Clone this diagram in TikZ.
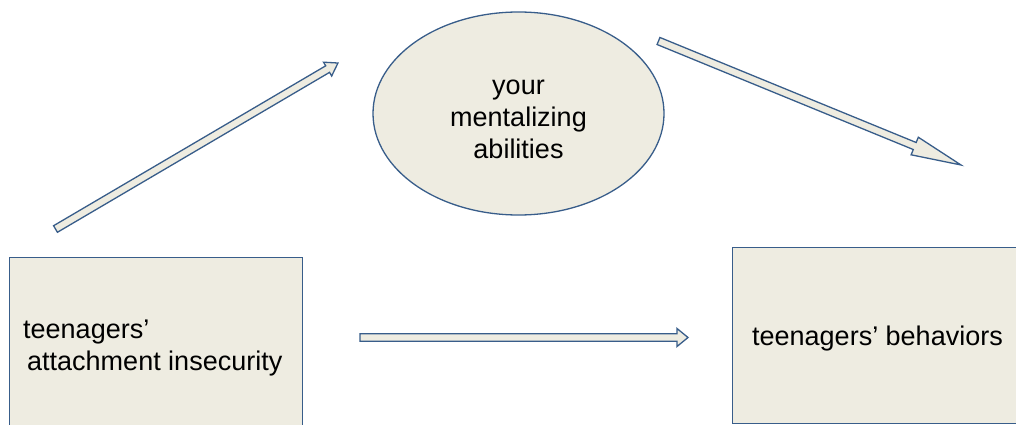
\documentclass[tikz,border=0pt]{standalone}
\usepackage{fontspec}
\setmainfont{Liberation Sans}
\usetikzlibrary{calc,shapes.geometric}
\definecolor{edgeblue}{HTML}{385D8A}
\definecolor{paper}{HTML}{EEECE1}
\tikzset{
  panel/.style={draw=edgeblue, fill=paper, line width=1.3pt, inner sep=0pt},
  txt/.style={font=\fontsize{27pt}{32pt}\selectfont, inner sep=0pt, text=black},
  blockarr/.style={draw=edgeblue, fill=paper, line width=1.3pt, line join=miter},
}
% block arrow: #1 tail, #2 tip, #3 shaft half-width, #4 head half-width, #5 head length
\newcommand{\blockarrow}[5]{%
  \draw[blockarr] let \p1=($(#2)-(#1)$), \n1={atan2(\y1,\x1)}, \n2={veclen(\x1,\y1)} in
    [shift={(#1)}, rotate=\n1]
    (0pt,-#3pt) -- (\n2-#5pt,-#3pt) -- (\n2-#5pt,-#4pt) -- (\n2,0pt)
    -- (\n2-#5pt,#4pt) -- (\n2-#5pt,#3pt) -- (0pt,#3pt) -- cycle;
}
\begin{document}
\begin{tikzpicture}[x=1pt,y=-1pt]
  \useasboundingbox (0,0) rectangle (1016,425);
  \clip (0,0) rectangle (1016,425);

  % boxes and the mediator ellipse
  \node[panel, rectangle, anchor=north west, minimum width=292.5pt, minimum height=220pt]
    (insecurity) at (9,257) {};
  \node[panel, rectangle, anchor=north west, minimum width=320pt, minimum height=175.5pt]
    (behaviors) at (732,247) {};
  \node[panel, ellipse, minimum width=291pt, minimum height=203pt]
    (mentalizing) at (518.5,113.5) {};

  % texts
  \node[txt, anchor=base west, align=left] (insecuritytext) at (23,370)
    {teenagers’\\\hspace*{4pt}attachment insecurity};
  \node[txt, anchor=base] (behaviorstext) at (877.5,345) {teenagers’ behaviors};
  \node[txt, align=center] (mentalizingtext) at (518.5,119.5)
    {your\\mentalizing\\abilities};

  % arrows
  \coordinate (a1s) at (55.5,229);
  \coordinate (a1e) at (338,63);
  \coordinate (a2s) at (658.5,41);
  \coordinate (a2e) at (961,165);
  \coordinate (a3s) at (360,337.5);
  \coordinate (a3e) at (688,337.5);
  \blockarrow{a1s}{a1e}{3.8}{8}{12}
  \blockarrow{a2s}{a2e}{3.8}{9.5}{50}
  \blockarrow{a3s}{a3e}{3.8}{9}{11}
\end{tikzpicture}
\end{document}
